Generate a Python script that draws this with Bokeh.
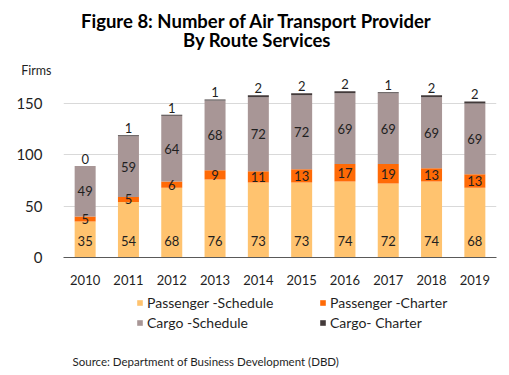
from bokeh.plotting import figure
from bokeh.layouts import column
from bokeh.models import (FactorRange, Range1d, FixedTicker, Label, Legend, LegendItem,
                          ColumnDataSource)
from bokeh.core.properties import value
from bokeh.embed import file_html
from bokeh.resources import INLINE

years = ["2010", "2011", "2012", "2013", "2014", "2015", "2016", "2017", "2018", "2019"]
passenger_schedule = [35, 54, 68, 76, 73, 73, 74, 72, 74, 68]
passenger_charter = [5, 5, 6, 9, 11, 13, 17, 19, 13, 13]
cargo_schedule = [49, 59, 64, 68, 72, 72, 69, 69, 69, 69]
cargo_charter = [0, 1, 1, 1, 2, 2, 2, 1, 2, 2]
series_names = ["Passenger -Schedule", "Passenger -Charter", "Cargo -Schedule", "Cargo- Charter"]
y_ticks = [0, 50, 100, 150]
title_lines = ["Figure 8: Number of Air Transport Provider", "By Route Services"]
y_title = "Firms"
source_text = "Source:  Department of Business Development (DBD)"

colors = ["#FFC36F", "#FF6A06", "#A89696", "#433A3A"]
FONT = "Lato"
TXT = "#1f1f1f"
W = 509


def blank(h):
    f = figure(width=W, height=h, output_backend="svg", toolbar_location=None,
               x_range=Range1d(0, W), y_range=Range1d(h, 0),
               x_axis_type=None, y_axis_type=None, frame_align=False,
               min_border=0, min_border_left=0, min_border_right=0,
               min_border_top=0, min_border_bottom=0)
    f.outline_line_color = None
    f.grid.visible = False
    return f


# ---- top: titles ----
TOP_H = 76
top = blank(TOP_H)
top.add_layout(Label(x=256.5, y=20.3, text=title_lines[0], text_font=FONT,
                     text_font_style="bold", text_font_size="18.5px", text_align="center",
                     text_baseline="middle", text_color="#000000"))
top.add_layout(Label(x=256.5, y=39.5, text=title_lines[1], text_font=FONT,
                     text_font_style="bold", text_font_size="18.5px", text_align="center",
                     text_baseline="middle", text_color="#000000"))
top.add_layout(Label(x=20.7, y=69.5, text=y_title, text_font=FONT, text_font_size="12.5px",
                     text_align="left", text_baseline="middle", text_color=TXT))

# ---- main chart ----
keys = ["ps", "pc", "cs", "cc"]
data = dict(x=years, ps=passenger_schedule, pc=passenger_charter,
            cs=cargo_schedule, cc=cargo_charter)
b1 = list(passenger_schedule)
b2 = [a + b for a, b in zip(b1, passenger_charter)]
b3 = [a + b for a, b in zip(b2, cargo_schedule)]
b4 = [a + b for a, b in zip(b3, cargo_charter)]
data["ps_y"] = [0] * len(years)
data["pc_y"] = [a + b / 2 for a, b in zip(b1, passenger_charter)]
data["cs_y"] = [a + b / 2 for a, b in zip(b2, cargo_schedule)]
data["cc_y"] = b4
for k in keys:
    data[k + "_t"] = [str(v) for v in data[k]]
src = ColumnDataSource(data)

MAIN_H = 290 - TOP_H
p = figure(width=W, height=MAIN_H, output_backend="svg", toolbar_location=None,
           x_range=FactorRange(*years, range_padding=0),
           y_range=Range1d(0, (257 - TOP_H) / 1.0267), frame_align=False,
           min_border_left=63, min_border_right=13, min_border_top=0, min_border_bottom=33)
p.outline_line_color = None

rs = p.vbar_stack(keys, x="x", width=0.485, color=colors, source=src, line_color=None)

common = dict(source=src, text_font=value(FONT), text_font_size="13px", text_color=TXT,
              text_align="center", text_baseline="middle")
p.text(x="x", y="ps_y", text="ps_t", y_offset=-17, **common)
p.text(x="x", y="pc_y", text="pc_t", **common)
p.text(x="x", y="cs_y", text="cs_t", **common)
p.text(x="x", y="cc_y", text="cc_t", y_offset=-7, **common)

p.yaxis.ticker = FixedTicker(ticks=y_ticks)
p.yaxis.axis_line_color = None
p.yaxis.major_tick_line_color = None
p.yaxis.minor_tick_line_color = None
p.yaxis.major_label_text_font = FONT
p.yaxis.major_label_text_font_size = "15px"
p.yaxis.major_label_text_color = TXT
p.yaxis.major_label_standoff = 15

p.xaxis.axis_line_color = "#595959"
p.xaxis.major_tick_line_color = None
p.xaxis.minor_tick_line_color = None
p.xaxis.major_label_text_font = FONT
p.xaxis.major_label_text_font_size = "13px"
p.xaxis.major_label_text_color = TXT
p.xaxis.major_label_standoff = 11

p.xgrid.grid_line_color = None
p.ygrid.grid_line_color = "#D9D9D9"
p.ygrid.ticker = FixedTicker(ticks=y_ticks)

# ---- bottom: legend + source ----
BOT_H = 375 - 290
bot = blank(BOT_H)
# zero-height bars: nothing visible, only used to style the legend swatches
dummies = [bot.vbar(x=[250], top=[0], bottom=[0], width=1, color=c, line_color=None)
           for c in colors]
items = [LegendItem(label=n, renderers=[r]) for n, r in zip(series_names, dummies)]
legend = Legend(items=items, location=(136, 44), orientation="horizontal", ncols=2,
                glyph_width=7, glyph_height=7, label_height=12, label_width=169,
                label_standoff=4, spacing=3, padding=0, margin=0,
                border_line_color=None, background_fill_alpha=0,
                label_text_font=FONT, label_text_font_size="14px", label_text_color=TXT)
bot.add_layout(legend, "center")
bot.add_layout(Label(x=72, y=70.7, text=source_text, text_font=FONT, text_font_size="11.5px",
                     text_align="left", text_baseline="middle", text_color=TXT))

layout = column(top, p, bot, spacing=0)
open("out.html", "w").write(file_html(layout, INLINE))
